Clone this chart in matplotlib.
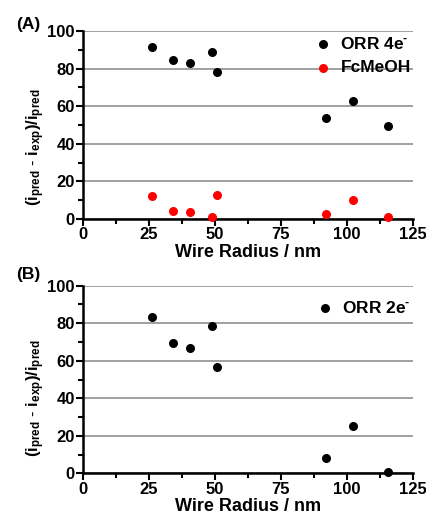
import matplotlib
matplotlib.use('Agg')
import matplotlib.pyplot as plt
from matplotlib.ticker import MultipleLocator

plt.rcParams['font.family'] = 'Liberation Sans'
plt.rcParams['font.weight'] = 'bold'
plt.rcParams['mathtext.fontset'] = 'custom'
plt.rcParams['mathtext.rm'] = 'Liberation Sans:bold'
plt.rcParams['mathtext.bf'] = 'Liberation Sans:bold'
plt.rcParams['mathtext.it'] = 'Liberation Sans:bold'
plt.rcParams['mathtext.default'] = 'bf'

# wire radius (nm)
radius = [26.0, 34.2, 40.5, 48.8, 50.8, 92.0, 102.3, 115.7]

# panel A
orr4e = [91.5, 84.6, 83.2, 89.0, 78.0, 53.9, 62.8, 49.3]
fcmeoh = [12.1, 4.4, 3.7, 1.1, 12.8, 2.7, 10.1, 1.1]

# panel B
orr2e = [83.1, 69.4, 66.6, 78.5, 56.5, 8.0, 25.4, 0.9]

ylabel = r'$\mathbf{(i_{pred}}$ - $\mathbf{i_{exp})/i_{pred}}$'

fig = plt.figure(figsize=(4.26, 5.18), dpi=100)
ax1 = fig.add_axes([83/426, 1 - 219/518, 330/426, 188/518])
ax2 = fig.add_axes([83/426, 1 - 473.3/518, 330/426, 187.6/518])


def style(ax, ylab_y):
    ax.set_xlim(0, 125)
    ax.set_ylim(0, 100)
    ax.xaxis.set_major_locator(MultipleLocator(25))
    ax.xaxis.set_minor_locator(MultipleLocator(12.5))
    ax.yaxis.set_major_locator(MultipleLocator(20))
    ax.yaxis.set_minor_locator(MultipleLocator(10))
    ax.yaxis.grid(True, which='major', color='#909090', lw=1.2)
    ax.set_axisbelow(True)
    for s in ['top', 'right']:
        ax.spines[s].set_visible(False)
    for s in ['left', 'bottom']:
        ax.spines[s].set_linewidth(1.8)
    ax.tick_params(which='major', direction='out', length=5, width=1.5, labelsize=12, pad=1)
    ax.tick_params(which='minor', direction='out', length=3.5, width=1.5)
    ax.set_xlabel('Wire Radius / nm', fontsize=13, fontweight='bold', labelpad=1)
    ax.set_ylabel(ylabel, fontsize=12)
    ax.yaxis.set_label_coords(-0.11, ylab_y)


style(ax1, 0.38)
ax1.scatter(radius, orr4e, s=30, color='black', zorder=3, label=r'ORR 4e$^{\text{-}}$')
ax1.scatter(radius, fcmeoh, s=30, color='#ff0000', zorder=3, label='FcMeOH', clip_on=False)
ax1.legend(loc='upper right', bbox_to_anchor=(1.03, 1.04), frameon=False, fontsize=12.5,
           handletextpad=0.0, borderaxespad=0.3, labelspacing=0.5)
fig.text(16/426, 1 - 25/518, '(A)', fontsize=12.5, fontweight='bold', va='center')

style(ax2, 0.40)
ax2.scatter(radius, orr2e, s=30, color='black', zorder=3, label=r'ORR 2e$^{\text{-}}$', clip_on=False)
ax2.legend(loc='upper right', bbox_to_anchor=(1.03, 0.99), frameon=False, fontsize=12.5,
           handletextpad=0.0, borderaxespad=0.3)
fig.text(16/426, 1 - 275/518, '(B)', fontsize=12.5, fontweight='bold', va='center')

fig.savefig('out.png', dpi=100)
